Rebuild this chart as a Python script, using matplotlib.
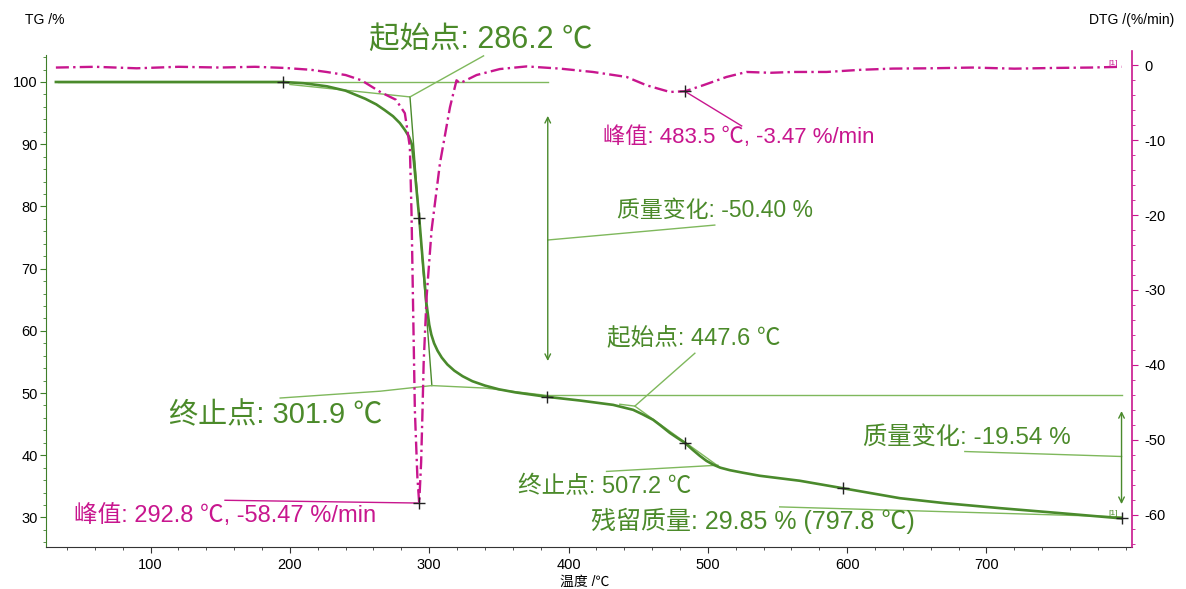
import numpy as np
import matplotlib
matplotlib.use('Agg')
import matplotlib.pyplot as plt
from matplotlib.ticker import MultipleLocator

plt.rcParams['font.family'] = ['Liberation Sans', 'Noto Sans CJK SC', 'DejaVu Sans']
plt.rcParams['axes.unicode_minus'] = False

# ---------------- data ----------------
tg_temp = [32, 100, 150, 195.1, 210, 226.7, 240, 254.1, 262, 267.9, 274, 278.9,
           282.5, 285.5, 287.5, 289.0, 290.5, 292.8, 295.7, 298.1, 300.0, 301.5,
           303.5, 306.0, 309.0, 313.0, 318.0, 324.0, 331.0, 340.0, 350.0, 362.0,
           384.2, 408.1, 432.0, 446.4, 453.0, 460.7, 466.0, 472.7, 478.0, 483.5,
           489.0, 494.3, 499.0, 503.8, 509.0, 515.8, 525.0, 537.3, 566.0, 596.9,
           637.8, 670.0, 709.6, 752.7, 797.0]
tg_val = [100.0, 100.0, 100.0, 100.0, 99.8, 99.3, 98.6, 97.3, 96.4, 95.5, 94.5, 93.4,
          92.3, 91.2, 90.0, 87.2, 83.6, 78.2, 70.3, 64.3, 61.0, 59.4,
          58.0, 56.8, 55.7, 54.6, 53.6, 52.7, 51.9, 51.2, 50.6, 50.1,
          49.4, 48.8, 48.1, 47.3, 46.6, 45.7, 44.8, 43.6, 42.8, 42.0,
          40.9, 39.9, 39.1, 38.5, 38.0, 37.6, 37.2, 36.7, 35.9, 34.7,
          33.1, 32.3, 31.5, 30.7, 29.85]

dtg_temp = [32, 60, 90, 120, 150, 175, 196, 215, 226.6, 240, 251.3, 265.2, 276.1,
            282.5, 286.1, 287.3, 288.5, 289.7, 291.5, 292.8, 294.2, 295.2, 296.0,
            298.1, 301.7, 307.7, 314.9, 319.6, 322.0, 334.0, 350.7, 369.9, 393.8,
            417.5, 441.7, 456.0, 472.7, 483.5, 496.6, 513.4, 527.8, 545.0, 561.2,
            585.2, 610.0, 632.8, 660.0, 690.0, 720.0, 750.0, 775.0, 797.0]
dtg_val = [-0.3, -0.2, -0.4, -0.2, -0.3, -0.2, -0.35, -0.6, -0.9, -1.3, -2.0, -3.6, -4.6,
           -6.4, -10.9, -19.8, -33.1, -46.1, -55.0, -58.47, -53.0, -46.0, -39.8,
           -31.0, -22.0, -13.1, -5.6, -2.0, -2.4, -1.3, -0.5, -0.15, -0.44,
           -0.89, -1.56, -2.67, -3.56, -3.47, -2.67, -1.56, -0.89, -1.0, -0.89,
           -0.89, -0.6, -0.44, -0.4, -0.3, -0.45, -0.35, -0.3, -0.2]

tg_marks_t = [195.1, 292.8, 384.2, 483.5, 596.9, 797.0]
tg_marks_v = [100.0, 78.2, 49.4, 42.0, 34.7, 29.85]
dtg_marks_t = [292.8, 483.5]
dtg_marks_v = [-58.47, -3.47]

x_ticks = [100, 200, 300, 400, 500, 600, 700]
tg_ticks = [30, 40, 50, 60, 70, 80, 90, 100]
dtg_ticks = [-60, -50, -40, -30, -20, -10, 0]

GREEN = '#4a8a2c'
LGREEN = '#7fb85c'
TGREEN = '#4b8a2a'
MAG = '#c8168e'

fig = plt.figure(figsize=(11.86, 5.89), dpi=100)
ax = fig.add_axes([0.03879, 0.07182, 0.91543, 0.8421])
ax2 = ax.twinx()

ax.set_xlim(24.9, 804.3)
ax.set_ylim(25.3, 105.03)
ax2.set_ylim(-64.3, 1.95)

# TG curve
ax.plot(tg_temp, tg_val, color=GREEN, lw=1.9, zorder=3)
ax.plot(tg_marks_t, tg_marks_v, '+', color='#222222', ms=8, mew=1.0, zorder=5)

# DTG curve
ax2.plot(dtg_temp, dtg_val, color=MAG, lw=1.7, dashes=(5.5, 1.8, 1, 1.8), zorder=2)
ax2.plot(dtg_marks_t, dtg_marks_v, '+', color='#222222', ms=8, mew=1.0, zorder=5)

# construction lines, step 1
thin = dict(color=LGREEN, lw=1.0, zorder=2)
ax.plot([33.6, 385.1], [100.0, 100.0], **thin)
ax.plot([200, 286.2], [99.6, 97.6], **thin)
ax.plot([286.2, 301.9], [97.6, 51.2], color=GREEN, lw=1.0, zorder=2)
ax.plot([286.2, 339], [97.6, 104.2], **thin)
ax.plot([193, 265, 301.9, 340, 385], [49.2, 50.3, 51.2, 50.8, 49.6], **thin)
ax.plot([385, 797], [49.7, 49.7], **thin)
ax.annotate('', xy=(385.1, 95.0), xytext=(385.1, 54.7),
            arrowprops=dict(arrowstyle='<->', color=GREEN, lw=1.0))
ax.plot([385.1, 505], [74.6, 77.0], **thin)

# construction lines, step 2
ax.plot([436.8, 447.6, 507.2], [48.2, 47.9, 38.3], **thin)
ax.plot([447.6, 490.7], [47.9, 56.4], **thin)
ax.plot([427.3, 507.2], [37.4, 38.4], **thin)
ax.annotate('', xy=(797.0, 47.55), xytext=(797.0, 31.7),
            arrowprops=dict(arrowstyle='<->', color=GREEN, lw=1.0))
ax.plot([684.5, 797.0], [40.6, 39.8], **thin)
ax.plot([551.6, 797.0], [31.7, 30.1], **thin)

# DTG leader lines
ax2.plot([153.4, 292.8], [-58.1, -58.47], color=MAG, lw=1.0)
ax2.plot([483.5, 524.3], [-3.47, -8.1], color=MAG, lw=1.0)

# labels
ax.text(337, 106.8, '起始点: 286.2 ℃', color=TGREEN, fontsize=22,
        ha='center', va='center', clip_on=False)
ax.text(190, 46.4, '终止点: 301.9 ℃', color=TGREEN, fontsize=21,
        ha='center', va='center')
ax.text(505, 79.3, '质量变化: -50.40 %', color=TGREEN, fontsize=16.5,
        ha='center', va='center')
ax.text(490, 58.9, '起始点: 447.6 ℃', color=TGREEN, fontsize=17,
        ha='center', va='center')
ax.text(426, 34.9, '终止点: 507.2 ℃', color=TGREEN, fontsize=17,
        ha='center', va='center')
ax.text(686, 42.9, '质量变化: -19.54 %', color=TGREEN, fontsize=17.5,
        ha='center', va='center')
ax.text(532.6, 29.4, '残留质量: 29.85 % (797.8 ℃)', color=TGREEN, fontsize=18,
        ha='center', va='center')
ax.text(791, 30.7, '[1]', color=TGREEN, fontsize=6, ha='center', va='center')
ax2.text(153.4, -60.1, '峰值: 292.8 ℃, -58.47 %/min', color=MAG, fontsize=17,
         ha='center', va='center')
ax2.text(522.3, -9.6, '峰值: 483.5 ℃, -3.47 %/min', color=MAG, fontsize=16,
         ha='center', va='center')
ax2.text(791, 0.3, '[1]', color=MAG, fontsize=6, ha='center', va='center')

# axes styling
for s in ['top', 'right']:
    ax.spines[s].set_visible(False)
for s in ['top', 'left', 'bottom']:
    ax2.spines[s].set_visible(False)
ax.spines['left'].set_color('#3f7f2a')
ax.spines['left'].set_bounds(25.3, 104.3)
ax.spines['bottom'].set_color('#333333')
ax2.spines['right'].set_color(MAG)
ax2.spines['right'].set_linewidth(1.2)

ax.set_xticks(x_ticks)
ax.xaxis.set_minor_locator(MultipleLocator(20))
ax.set_yticks(tg_ticks)
ax.yaxis.set_minor_locator(MultipleLocator(2))
ax2.set_yticks(dtg_ticks)
ax2.yaxis.set_minor_locator(MultipleLocator(2))

ax.tick_params(axis='both', which='major', labelsize=10.5, length=4, width=0.8)
ax.tick_params(axis='both', which='minor', length=2, width=0.6)
ax.tick_params(axis='y', which='both', color='#3f7f2a', pad=2)
ax.tick_params(axis='x', which='both', color='#333333', pad=4)
ax2.tick_params(axis='y', which='major', labelsize=10.5, length=4, width=0.8,
                color=MAG, pad=5)
ax2.tick_params(axis='y', which='minor', length=2, width=0.6, color=MAG)

fig.text(0.038, 0.966, 'TG /%', fontsize=10, ha='center', va='center')
fig.text(0.954, 0.966, 'DTG /(%/min)', fontsize=10, ha='center', va='center')
fig.text(0.493, 0.013, '温度 /℃', fontsize=10, ha='center', va='center')

fig.savefig('out.png', dpi=100)
